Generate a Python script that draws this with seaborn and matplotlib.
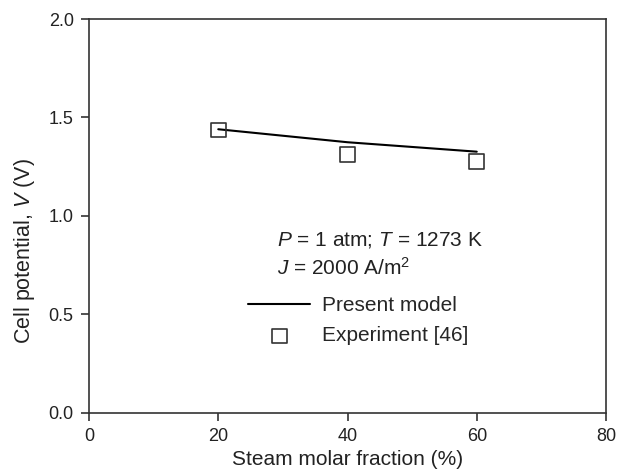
import numpy as np
import pandas as pd
import matplotlib
matplotlib.use('Agg')
import matplotlib.pyplot as plt
import seaborn as sns

# ----- Data -----
steam_fraction = [20, 40, 60]           # steam molar fraction (%)
model_potential = [1.440, 1.374, 1.326] # present model, V
exp_potential = [1.436, 1.311, 1.277]   # experiment [46], V

x_ticks = [0, 20, 40, 60, 80]
y_ticks = [0.0, 0.5, 1.0, 1.5, 2.0]

df = pd.DataFrame({'steam': steam_fraction,
                   'model': model_potential,
                   'exp': exp_potential})

# ----- Style -----
sns.set_theme(style='ticks')
plt.rcParams['font.family'] = ['Liberation Sans', 'DejaVu Sans']
plt.rcParams['mathtext.fontset'] = 'custom'
plt.rcParams['mathtext.rm'] = 'Liberation Sans'
plt.rcParams['mathtext.it'] = 'Liberation Sans:italic'

fig = plt.figure(figsize=(6.23, 4.73), dpi=100)
ax = fig.add_axes([0.1429, 0.1275, 0.8298, 0.8323])

sns.lineplot(data=df, x='steam', y='model', ax=ax, color='black',
             linewidth=1.5, label='Present model')
sns.scatterplot(data=df, x='steam', y='exp', ax=ax, marker='s', s=110,
                facecolor='none', edgecolor='#333333', linewidth=1.2,
                label='Experiment [46]', zorder=3)

ax.set_xlim(0, 80)
ax.set_ylim(0, 2)
ax.set_xticks(x_ticks)
ax.set_yticks(y_ticks)
ax.set_yticklabels(['%.1f' % v for v in y_ticks])
ax.tick_params(direction='out', length=6, width=1.1, pad=5,
               labelsize=13, colors='#222222')

for s in ax.spines.values():
    s.set_visible(True)
    s.set_linewidth(1.2)
    s.set_color('#333333')

ax.set_xlabel('Steam molar fraction (%)', fontsize=15, color='#222222')
ax.set_ylabel('Cell potential, $V$ (V)', fontsize=15.5, color='#222222')
ax.xaxis.set_label_coords(0.5, -0.095)
ax.yaxis.set_label_coords(-0.100, 0.41)

# ----- Annotations -----
ax.text(29.1, 0.849, '$P$ = 1 atm; $T$ = 1273 K', fontsize=15,
        va='baseline', ha='left', color='#222222')
ax.text(29.1, 0.700, '$J$ = 2000 A/m$^2$', fontsize=15,
        va='baseline', ha='left', color='#222222')

ax.legend(loc='upper left', bbox_to_anchor=(0.3075, 0.2964), frameon=False,
          fontsize=15, handlelength=3.0, handletextpad=0.55,
          labelspacing=0.55, borderpad=0, borderaxespad=0)

fig.savefig('out.png', dpi=100)
